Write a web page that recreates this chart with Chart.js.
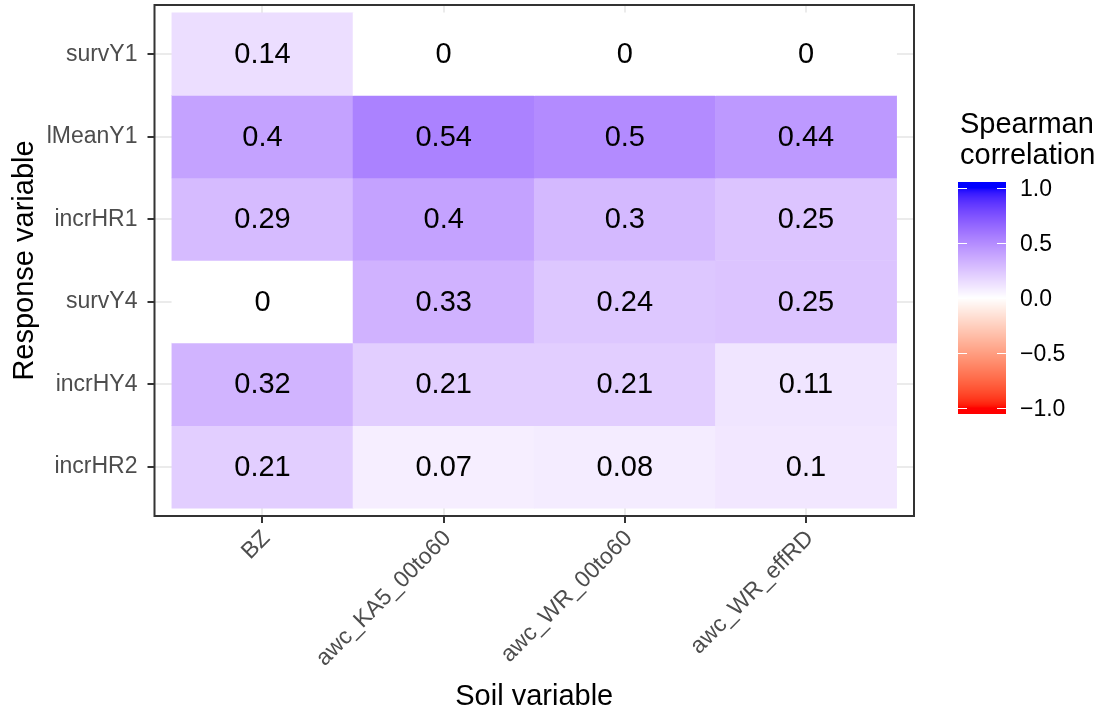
<!DOCTYPE html>
<html>
<head>
<meta charset="utf-8">
<script src="https://cdn.jsdelivr.net/npm/chart.js@4/dist/chart.umd.min.js"></script>
<style>
  body { margin: 0; background: #fff; }
  #wrap { width: 1100px; height: 716px; }
</style>
</head>
<body>
<div id="wrap"><canvas id="heatmap" width="1100" height="716"></canvas></div>
<script>
// data
const soilVars = ['BZ', 'awc_KA5_00to60', 'awc_WR_00to60', 'awc_WR_effRD'];
const responseVars = ['survY1', 'lMeanY1', 'incrHR1', 'survY4', 'incrHY4', 'incrHR2'];

const survY1 = [0.14, 0, 0, 0];
const lMeanY1 = [0.4, 0.54, 0.5, 0.44];
const incrHR1 = [0.29, 0.4, 0.3, 0.25];
const survY4 = [0, 0.33, 0.24, 0.25];
const incrHY4 = [0.32, 0.21, 0.21, 0.11];
const incrHR2 = [0.21, 0.07, 0.08, 0.1];
const rowValues = [survY1, lMeanY1, incrHR1, survY4, incrHY4, incrHR2];

const legendTicks = [1, 0.5, 0, -0.5, -1];

// colour helpers (red - white - blue, interpolated in Lab like ggplot)
const toLab = function (rgb) {
    const lin = (c) => { c /= 255; return c <= 0.04045 ? c / 12.92 : Math.pow((c + 0.055) / 1.055, 2.4); };
    const r = lin(rgb[0]), g = lin(rgb[1]), b = lin(rgb[2]);
    const x = (0.4124564 * r + 0.3575761 * g + 0.1804375 * b) / 0.95047;
    const y = 0.2126729 * r + 0.7151522 * g + 0.0721750 * b;
    const z = (0.0193339 * r + 0.1191920 * g + 0.9503041 * b) / 1.08883;
    const f = (t) => t > 216 / 24389 ? Math.cbrt(t) : (24389 / 27 * t + 16) / 116;
    const fx = f(x), fy = f(y), fz = f(z);
    return [116 * fy - 16, 500 * (fx - fy), 200 * (fy - fz)];
}

const fromLab = function (lab) {
    const fy = (lab[0] + 16) / 116, fx = fy + lab[1] / 500, fz = fy - lab[2] / 200;
    const finv = (t) => t * t * t > 216 / 24389 ? t * t * t : (116 * t - 16) / (24389 / 27);
    const x = 0.95047 * finv(fx), y = finv(fy), z = 1.08883 * finv(fz);
    const r = 3.2404542 * x - 1.5371385 * y - 0.4985314 * z;
    const g = -0.9692660 * x + 1.8760108 * y + 0.0415560 * z;
    const b = 0.0556434 * x - 0.2040259 * y + 1.0572252 * z;
    const gam = (c) => {
        c = c <= 0.0031308 ? 12.92 * c : 1.055 * Math.pow(c, 1 / 2.4) - 0.055;
        return Math.round(Math.min(1, Math.max(0, c)) * 255);
    };
    return `rgb(${gam(r)},${gam(g)},${gam(b)})`;
}

const labLow = toLab([255, 0, 0]);
const labMid = toLab([255, 255, 255]);
const labHigh = toLab([0, 0, 255]);

const fillColor = function (v) {
    v = Math.max(-1, Math.min(1, v));
    const end = v >= 0 ? labHigh : labLow;
    const t = Math.abs(v);
    return fromLab(labMid.map((m, i) => m + (end[i] - m) * t));
}

// datasets: one floating-bar row per response variable
const datasets = responseVars.map((name, r) => ({
    label: name,
    data: rowValues[r].map((v, c) => ({ x: c, y: [r - 0.5, r + 0.5], v: v })),
    backgroundColor: rowValues[r].map(fillColor),
    borderWidth: 0,
    barPercentage: 1,
    categoryPercentage: 1,
    grouped: false
}));

const FONT = 'Liberation Sans, Arial, sans-serif';

const cellLabels = {
    id: 'cellLabels',
    afterDatasetsDraw(chart) {
        const ctx = chart.ctx;
        const xs = chart.scales.x, ys = chart.scales.y;
        ctx.save();
        ctx.font = `29px ${FONT}`;
        ctx.fillStyle = '#000';
        ctx.textAlign = 'center';
        ctx.textBaseline = 'middle';
        rowValues.forEach((row, r) => {
            row.forEach((v, c) => {
                ctx.fillText(String(v), xs.getPixelForValue(c), ys.getPixelForValue(r) + 1);
            });
        });
        ctx.restore();
    }
};

const panelBorder = {
    id: 'panelBorder',
    afterDraw(chart) {
        const a = chart.chartArea;
        const ctx = chart.ctx;
        ctx.save();
        ctx.strokeStyle = '#333333';
        ctx.lineWidth = 2;
        ctx.strokeRect(a.left, a.top, a.right - a.left, a.bottom - a.top);
        ctx.restore();
    }
};

const colorBar = {
    id: 'colorBar',
    afterDraw(chart) {
        const ctx = chart.ctx;
        const barX = 958, barW = 48, barTop = 182, barBottom = 414;
        const yTop = 188, yBottom = 408; // positions of +1 and -1
        const valToY = (v) => yTop + (1 - v) / 2 * (yBottom - yTop);
        ctx.save();
        for (let y = barTop; y < barBottom; y++) {
            const v = 1 - (y + 0.5 - yTop) / (yBottom - yTop) * 2;
            ctx.fillStyle = fillColor(v);
            ctx.fillRect(barX, y, barW, 1);
        }
        ctx.strokeStyle = '#ffffff';
        ctx.lineWidth = 1;
        ctx.fillStyle = '#000';
        ctx.font = `23px ${FONT}`;
        ctx.textAlign = 'left';
        ctx.textBaseline = 'middle';
        legendTicks.forEach((t) => {
            const y = Math.round(valToY(t)) + 0.5;
            ctx.beginPath();
            ctx.moveTo(barX, y); ctx.lineTo(barX + 9, y);
            ctx.moveTo(barX + barW - 9, y); ctx.lineTo(barX + barW, y);
            ctx.stroke();
            const txt = t.toFixed(1).replace('-', '\u2212');
            ctx.fillText(txt, 1020, y + 1);
        });
        ctx.font = `29px ${FONT}`;
        ctx.textBaseline = 'alphabetic';
        ctx.fillText('Spearman', 960, 133);
        ctx.fillText('correlation', 960, 164);
        ctx.restore();
    }
};

new Chart('heatmap', {
    type: 'bar',
    data: { datasets: datasets },
    options: {
        responsive: false,
        animation: false,
        layout: { padding: { top: 5, right: 186, left: 0, bottom: 0 } },
        plugins: { legend: { display: false }, tooltip: { enabled: false } },
        scales: {
            x: {
                type: 'linear',
                offset: false,
                min: -0.596,
                max: 3.596,
                afterBuildTicks: (s) => { s.ticks = soilVars.map((_, i) => ({ value: i })); },
                afterFit: (s) => { s.height = 200; s.paddingLeft = 0; s.paddingRight = 0; },
                grid: { offset: false, color: '#EBEBEB', lineWidth: 2, tickColor: '#333333', tickLength: 7, tickWidth: 2 },
                border: { display: false },
                ticks: {
                    autoSkip: false,
                    minRotation: 45,
                    maxRotation: 45,
                    padding: 2,
                    labelOffset: 4,
                    color: '#4D4D4D',
                    font: { family: FONT, size: 23 },
                    callback: (v) => soilVars[v]
                },
                title: { display: true, text: 'Soil variable', color: '#000', font: { family: FONT, size: 29 }, padding: { top: 0, bottom: 2 } }
            },
            y: {
                type: 'linear',
                reverse: true,
                min: -0.596,
                max: 5.596,
                afterBuildTicks: (s) => { s.ticks = responseVars.map((_, i) => ({ value: i })); },
                afterFit: (s) => { s.width = 154.5; s.paddingTop = 0; s.paddingBottom = 0; },
                grid: { color: '#EBEBEB', lineWidth: 2, tickColor: '#333333', tickLength: 7, tickWidth: 2 },
                border: { display: false },
                ticks: {
                    autoSkip: false,
                    padding: 10,
                    color: '#4D4D4D',
                    font: { family: FONT, size: 23 },
                    callback: (v) => responseVars[v]
                },
                title: { display: true, text: 'Response variable', color: '#000', font: { family: FONT, size: 29 }, padding: { top: 8, bottom: 0 } }
            }
        }
    },
    plugins: [cellLabels, panelBorder, colorBar]
});
</script>
</body>
</html>
